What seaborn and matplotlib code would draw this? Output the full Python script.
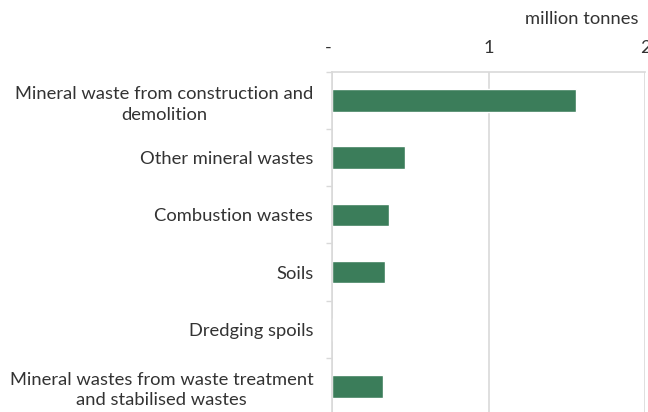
import matplotlib
matplotlib.use("Agg")
import matplotlib.pyplot as plt
import matplotlib.transforms as mtransforms
import seaborn as sns
import pandas as pd

categories = [
    "Mineral waste from construction and\ndemolition",
    "Other mineral wastes",
    "Combustion wastes",
    "Soils",
    "Dredging spoils",
    "Mineral wastes from waste treatment\nand stabilised wastes",
]
values = [1.56, 0.467, 0.366, 0.34, 0.0, 0.327]
x_ticks = [0, 1, 2]
x_tick_labels = ["-", "1", "2"]
unit_label = "million tonnes"

sns.set_theme(style="white")
plt.rcParams["font.family"] = ["Lato", "DejaVu Sans"]

text_color = "#333333"
grid_color = "#d9d9d9"
bar_color = "#3b7d5a"
fs = 13.2

df = pd.DataFrame({"category": categories, "value": values})

fig = plt.figure(figsize=(6.48, 4.12), dpi=100)
ax = fig.add_axes([332 / 648, -0.0068, (645 - 332) / 648, 0.8316])

sns.barplot(data=df, x="value", y="category", orient="h", color=bar_color,
            width=0.4, saturation=1, ax=ax)

ax.set_xlim(0, 2)
ax.set_ylim(len(categories) - 0.5, -0.5)

# value axis along the top
ax.xaxis.tick_top()
ax.set_xticks(x_ticks)
ax.set_xticklabels(x_tick_labels)
ax.tick_params(axis="x", length=0, pad=12, labelsize=fs, colors=text_color)
ax.xaxis.grid(True, color=grid_color, linewidth=1.2)
ax.set_axisbelow(True)
ax.set_xlabel("")
ax.set_ylabel("")

# the zero label ("-") sits a touch left of the axis line
zero_label = ax.get_xticklabels()[0]
zero_label.set_transform(zero_label.get_transform() +
                         mtransforms.ScaledTranslation(-4 / 100, 0, fig.dpi_scale_trans))

# category labels centred in bands, with tick marks between bands
ax.tick_params(axis="y", which="major", length=0, pad=13.5, labelsize=fs,
               colors=text_color)
for t in ax.get_yticklabels():
    t.set_multialignment("center")
    t.set_linespacing(1.35)
ax.set_yticks([i - 0.5 for i in range(len(categories) + 1)], minor=True)
ax.tick_params(axis="y", which="minor", length=4.3, width=1, color=grid_color,
               direction="out", left=True)

for side in ["right", "bottom"]:
    ax.spines[side].set_visible(False)
for side in ["top", "left"]:
    ax.spines[side].set_visible(True)
    ax.spines[side].set_color(grid_color)
    ax.spines[side].set_linewidth(1.2)

fig.text(582 / 648, 1 - 19 / 412, unit_label, ha="center", va="center",
         fontsize=fs, color=text_color)

fig.savefig("out.png", dpi=100)
